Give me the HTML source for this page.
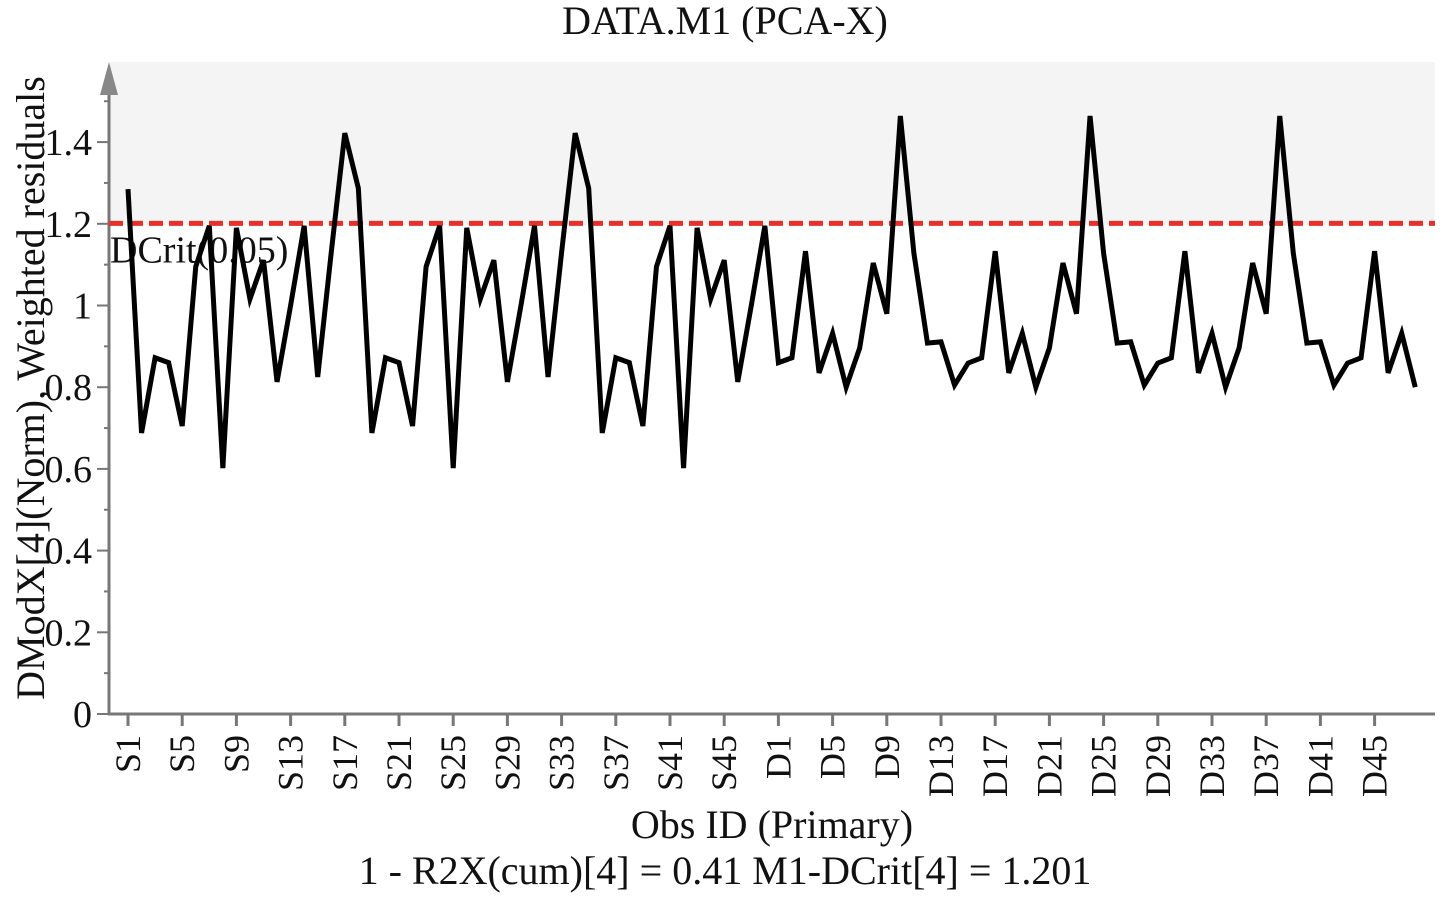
<!DOCTYPE html>
<html><head><meta charset="utf-8"><style>
body{margin:0;background:#fff}
svg text{font-family:"Liberation Serif",serif;fill:#111}
</style></head><body>
<svg width="1450" height="900" xmlns="http://www.w3.org/2000/svg" id="chart">
<rect x="110" y="62" width="1325" height="163" fill="#f4f4f4"/>
<text x="725" y="34" text-anchor="middle" font-size="40">DATA.M1 (PCA-X)</text>
<text transform="translate(44,388) rotate(-90)" text-anchor="middle" font-size="40">DModX[4](Norm), Weighted residuals</text>
<text x="772" y="838" text-anchor="middle" font-size="40">Obs ID (Primary)</text>
<text x="725" y="884" text-anchor="middle" font-size="40">1 - R2X(cum)[4] = 0.41 M1-DCrit[4] = 1.201</text>
<g id="axes"></g>
<g id="marks"></g>
</svg>
<script>
const ids = ["S1","S2","S3","S4","S5","S6","S7","S8","S9","S10","S11","S12","S13","S14","S15","S16","S17","S18","S19","S20","S21","S22","S23","S24","S25","S26","S27","S28","S29","S30","S31","S32","S33","S34","S35","S36","S37","S38","S39","S40","S41","S42","S43","S44","S45","S46","S47","S48",
"D1","D2","D3","D4","D5","D6","D7","D8","D9","D10","D11","D12","D13","D14","D15","D16","D17","D18","D19","D20","D21","D22","D23","D24","D25","D26","D27","D28","D29","D30","D31","D32","D33","D34","D35","D36","D37","D38","D39","D40","D41","D42","D43","D44","D45","D46","D47","D48"];
const valuesS = [1.285,0.688,0.872,0.86,0.705,1.095,1.195,0.602,1.19,1.016,1.111,0.813,1.0,1.195,0.825,1.13,1.422,
1.287,0.688,0.872,0.86,0.705,1.095,1.195,0.602,1.19,1.016,1.111,0.813,1.0,1.195,0.825,1.13,1.422,
1.287,0.688,0.872,0.86,0.705,1.095,1.195,0.602,1.19,1.016,1.111,0.813,1.0,1.195];
const valuesD = [0.86,0.872,
1.133,0.835,0.932,0.80,0.896,1.104,0.98,1.464,1.128,0.908,0.911,0.805,0.859,0.872,
1.133,0.835,0.932,0.80,0.896,1.104,0.98,1.464,1.128,0.908,0.911,0.805,0.859,0.872,
1.133,0.835,0.932,0.80,0.896,1.104,0.98,1.464,1.128,0.908,0.911,0.805,0.859,0.872,
1.133,0.835,0.932,0.80];
const yTicks = [0,0.2,0.4,0.6,0.8,1,1.2,1.4];
const yTickLabels = ["0","0.2","0.4","0.6","0.8","1","1.2","1.4"];
const xTickLabels = ["S1","S5","S9","S13","S17","S21","S25","S29","S33","S37","S41","S45","D1","D5","D9","D13","D17","D21","D25","D29","D33","D37","D41","D45"];
const dcrit = 1.201;

const NS="http://www.w3.org/2000/svg";
const values = valuesS.concat(valuesD);
const X0=128, DX=13.55, Y0=714, YS=408.5, AX=109;
const xs = i => X0 + i*DX;
const ys = v => Y0 - v*YS;
function mk(tag, attrs, parent){const e=document.createElementNS(NS,tag);for(const k in attrs)e.setAttribute(k,attrs[k]);parent.appendChild(e);return e;}
const axes=document.getElementById('axes'), marks=document.getElementById('marks');
let yl=mk('line',{x1:AX,y1:Y0,x2:AX,y2:90,stroke:'#777','stroke-width':3},axes);


let ar=mk('polygon',{points:`${AX-9},95 ${AX+9},95 ${AX},62`,fill:'#888'},axes);


for(let k=1;k<=15;k+=2){const y=ys(k/10);const t=mk('line',{x1:AX-5,y1:y,x2:AX,y2:y,stroke:'#777','stroke-width':2},axes);

}
yTicks.forEach((v,i)=>{const y=ys(v);
const t=mk('line',{x1:AX-12,y1:y,x2:AX,y2:y,stroke:'#777','stroke-width':2},axes);


const tx=mk('text',{x:92,y:y+13,'text-anchor':'end','font-size':38},axes);tx.textContent=yTickLabels[i];

});
let xl=mk('line',{x1:AX-1,y1:Y0,x2:1435,y2:Y0,stroke:'#777','stroke-width':3},axes);


xTickLabels.forEach(lab=>{const i=ids.indexOf(lab);const x=xs(i);
const t=mk('line',{x1:x,y1:Y0,x2:x,y2:Y0+12,stroke:'#777','stroke-width':3},axes);


const tx=mk('text',{transform:`translate(${x+12},${Y0+21}) rotate(-90)`,'text-anchor':'end','font-size':36},axes);tx.textContent=lab;

});
const dl=mk('line',{x1:AX,y1:ys(dcrit),x2:1435,y2:ys(dcrit),stroke:'#e8302a','stroke-width':5,'stroke-dasharray':'14 6'},marks);


const dlab=mk('text',{x:110,y:ys(dcrit)+39,'font-size':38},marks);dlab.textContent='DCrit(0.05)';


const pl=mk('polyline',{points:values.map((v,i)=>`${xs(i)},${ys(v)}`).join(' '),fill:'none',stroke:'#000','stroke-width':5,'stroke-linejoin':'miter','stroke-miterlimit':4},marks);


</script>
</body></html>
